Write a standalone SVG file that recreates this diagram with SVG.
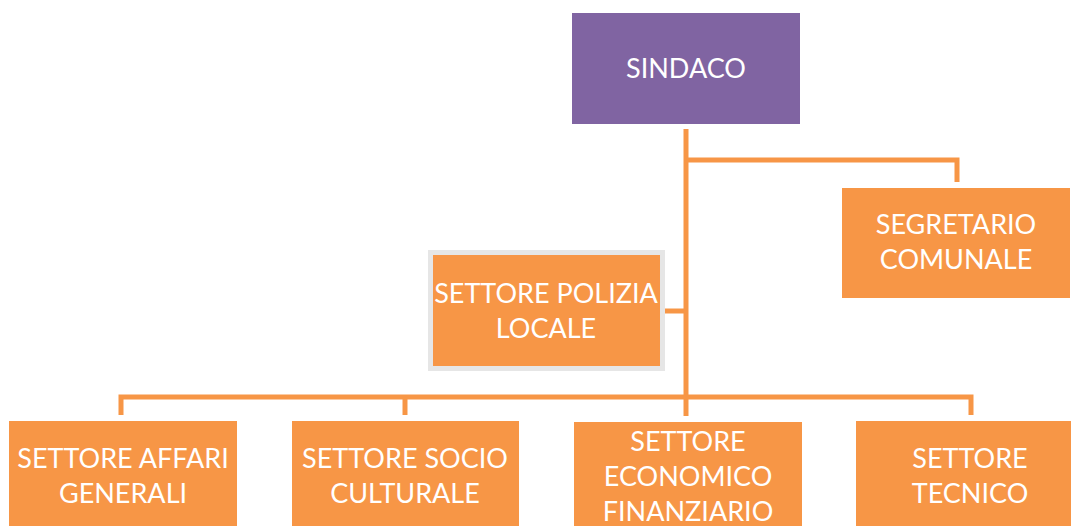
<svg xmlns="http://www.w3.org/2000/svg" width="1071" height="526" viewBox="0 0 1071 526">
<style>
.box{fill:#F79646}
.t{font-family:Lato,"Open Sans","Liberation Sans",sans-serif;font-size:27px;fill:#FFFFFF;text-anchor:middle}
.c{fill:none;stroke:#F79646;stroke-width:5}
</style>
<rect width="1071" height="526" fill="#FFFFFF"/>
<g id="connectors">
<path class="c" d="M686 129 V390"/>
<path class="c" d="M686 160 H957 V182"/>
<path class="c" d="M662 311 H686"/>
<path class="c" d="M121 415 V397 H971 V415"/>
<path class="c" d="M405 397 V415"/>
<path class="c" d="M686 390 V416"/>
</g>
<g id="sindaco">
<rect x="572" y="13" width="228" height="111" fill="#8064A2"/>
<text class="t" x="686" y="78">SINDACO</text>
</g>
<g id="segretario">
<rect class="box" x="842" y="188" width="228" height="110"/>
<text class="t" x="956" y="234">SEGRETARIO</text>
<text class="t" x="956" y="269">COMUNALE</text>
</g>
<g id="polizia">
<rect x="430.5" y="252.5" width="232" height="116" fill="#F79646" stroke="#E6E6E6" stroke-width="5"/>
<text class="t" x="546" y="303">SETTORE POLIZIA</text>
<text class="t" x="546" y="338">LOCALE</text>
</g>
<g id="affari">
<rect class="box" x="9" y="421" width="228" height="105"/>
<text class="t" x="123" y="468">SETTORE AFFARI</text>
<text class="t" x="123" y="503">GENERALI</text>
</g>
<g id="socio">
<rect class="box" x="292" y="421" width="227" height="105"/>
<text class="t" x="405" y="468">SETTORE SOCIO</text>
<text class="t" x="405" y="503">CULTURALE</text>
</g>
<g id="economico">
<rect class="box" x="574" y="422" width="228" height="104"/>
<text class="t" x="688" y="451">SETTORE</text>
<text class="t" x="688" y="486">ECONOMICO</text>
<text class="t" x="688" y="521">FINANZIARIO</text>
</g>
<g id="tecnico">
<rect class="box" x="856" y="421" width="215" height="105"/>
<text class="t" x="970" y="468">SETTORE</text>
<text class="t" x="970" y="503">TECNICO</text>
</g>
</svg>
